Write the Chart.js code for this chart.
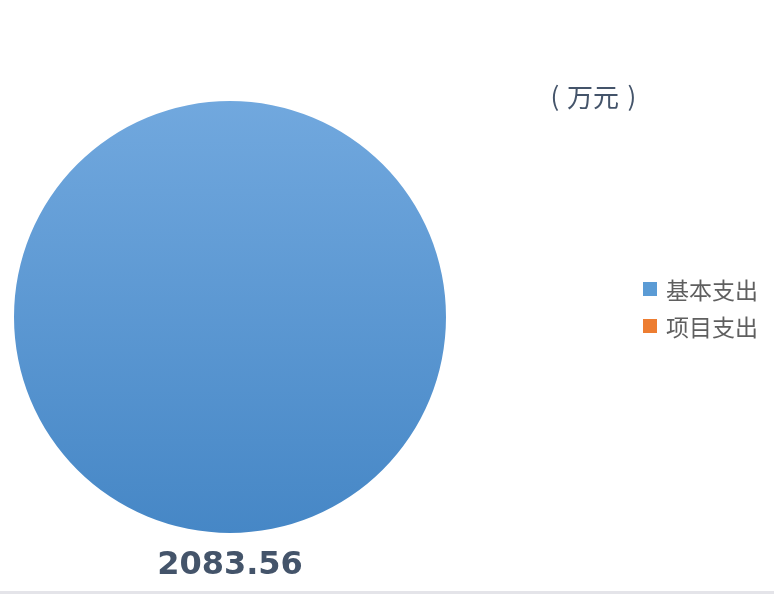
<!DOCTYPE html>
<html>
<head>
<meta charset="utf-8">
<script src="https://cdn.jsdelivr.net/npm/chart.js@4/dist/chart.umd.min.js"></script>
<style>
  html, body { margin: 0; padding: 0; background: #ffffff; }
  #wrap { width: 774px; height: 594px; position: relative; }
</style>
</head>
<body>
<div id="wrap"><canvas id="chart1" width="774" height="594"></canvas></div>
<script>
// chart data
const categories = ["基本支出", "项目支出"];
const values = [2083.56, 0];
const colors = ["#5b9bd5", "#ed7d31"];
const unitLabel = "（万元）";

// blue slice gets a vertical gradient, like the office fill
function sliceFill(context) {
  const { ctx, chartArea } = context.chart;
  if (!chartArea) return colors[context.dataIndex];
  if (context.dataIndex !== 0) return colors[context.dataIndex];
  const g = ctx.createLinearGradient(0, chartArea.top, 0, chartArea.bottom);
  g.addColorStop(0, "#71a8de");
  g.addColorStop(1, "#4687c6");
  return g;
}

const extras = {
  id: "extras",
  afterDraw(chart) {
    const ctx = chart.ctx;
    const meta = chart.getDatasetMeta(0);
    const arc = meta.data[0];
    ctx.save();

    // value label under the pie
    ctx.fillStyle = "#44546a";
    ctx.font = "bold 32px 'DejaVu Sans'";
    ctx.textAlign = "center";
    ctx.textBaseline = "middle";
    ctx.fillText(values[0].toFixed(2), arc.x, arc.y + arc.outerRadius + 33);

    // unit text, fullwidth brackets spread out like the original
    ctx.font = "26px 'Noto Sans CJK SC'";
    const inner = unitLabel.slice(1, -1);
    ctx.fillText("(", 555, 96);
    ctx.fillText(inner, 593, 97);
    ctx.fillText(")", 632, 96);

    // legend
    ctx.textAlign = "left";
    ctx.font = "23px 'Noto Sans CJK SC'";
    chart.data.labels.forEach((lab, i) => {
      const y = 289 + i * 37;
      ctx.fillStyle = colors[i];
      ctx.fillRect(643, y - 7, 14, 14);
      ctx.fillStyle = "#5f5f5f";
      ctx.fillText(lab, 666, y + 1);
    });

    // thin grey strip at the bottom
    ctx.fillStyle = "#e4e4e9";
    ctx.fillRect(0, 591, chart.width, 3);
    ctx.restore();
  }
};

const chart = new Chart(document.getElementById("chart1"), {
  type: "pie",
  data: {
    labels: categories,
    datasets: [{
      data: values,
      backgroundColor: sliceFill,
      borderWidth: 0,
    }],
  },
  options: {
    responsive: false,
    animation: false,
    layout: { padding: { left: 14, top: 101, right: 328, bottom: 61 } },
    plugins: {
      legend: { display: false },
      tooltip: { enabled: false },
    },
  },
  plugins: [extras],
});
</script>
</body>
</html>
